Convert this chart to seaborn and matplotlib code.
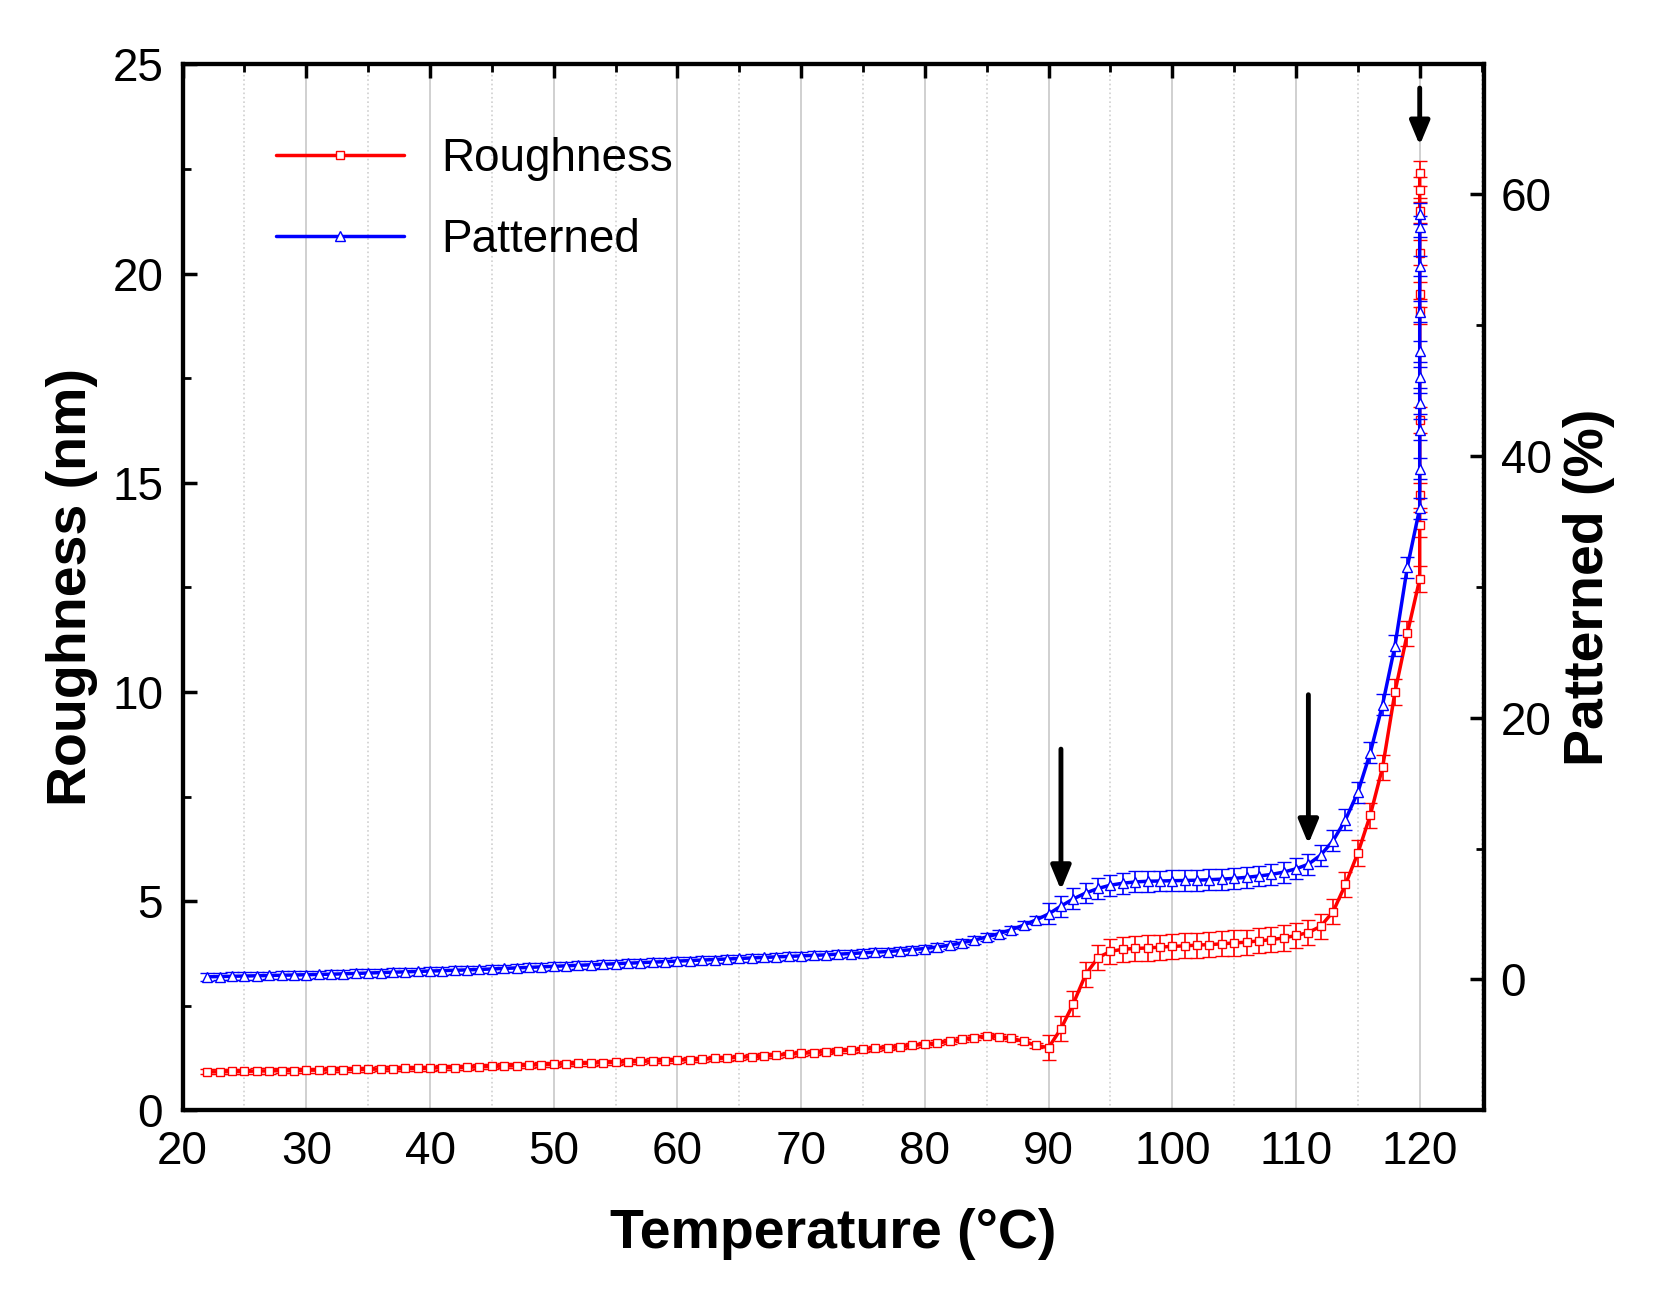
import numpy as np
import pandas as pd
import matplotlib
matplotlib.use("Agg")
import matplotlib.pyplot as plt
import seaborn as sns

# temperatures: 22..119 then several readings held at 120 C
temp = list(range(22, 120)) + [120] * 10

roughness = [0.92, 0.92, 0.93, 0.93, 0.94, 0.94, 0.95, 0.95,
             0.96, 0.96, 0.97, 0.97, 0.98, 0.98, 0.99, 0.99, 1.00, 1.00,
             1.01, 1.02, 1.02, 1.03, 1.04, 1.05, 1.06, 1.07, 1.08, 1.09,
             1.10, 1.11, 1.12, 1.13, 1.14, 1.15, 1.16, 1.17, 1.18, 1.19,
             1.20, 1.21, 1.22, 1.24, 1.25, 1.27, 1.28, 1.30, 1.32, 1.34,
             1.36, 1.38, 1.40, 1.42, 1.44, 1.46, 1.48, 1.50, 1.52, 1.55,
             1.58, 1.61, 1.65, 1.70, 1.74, 1.78, 1.76, 1.72, 1.65, 1.55,
             1.50, 1.95, 2.55, 3.25, 3.65, 3.80, 3.85, 3.87, 3.88, 3.90,
             3.92, 3.93, 3.95, 3.96, 3.98, 4.00, 4.02, 4.05, 4.08, 4.12,
             4.18, 4.25, 4.40, 4.75, 5.40, 6.15, 7.05, 8.20, 10.0, 11.4,
             12.7, 14.0, 14.7, 16.5, 19.1, 19.5, 20.5, 21.5, 22.0, 22.4]

patterned = [0.20, 0.22, 0.24, 0.26, 0.28, 0.30, 0.32, 0.34,
             0.36, 0.38, 0.40, 0.43, 0.46, 0.49, 0.52, 0.55, 0.58, 0.61,
             0.64, 0.67, 0.70, 0.73, 0.76, 0.80, 0.84, 0.88, 0.92, 0.96,
             1.00, 1.04, 1.08, 1.12, 1.16, 1.20, 1.24, 1.28, 1.32, 1.36,
             1.40, 1.44, 1.48, 1.52, 1.56, 1.60, 1.64, 1.68, 1.72, 1.76,
             1.80, 1.84, 1.88, 1.93, 1.98, 2.03, 2.08, 2.13, 2.20, 2.28,
             2.36, 2.48, 2.62, 2.80, 3.00, 3.25, 3.50, 3.80, 4.15, 4.55,
             5.00, 5.60, 6.15, 6.60, 6.95, 7.20, 7.35, 7.45, 7.50, 7.52,
             7.54, 7.56, 7.58, 7.62, 7.66, 7.72, 7.80, 7.90, 8.02, 8.20,
             8.45, 8.80, 9.50, 10.6, 12.2, 14.3, 17.3, 21.0, 25.5, 31.5,
             36.0, 39.0, 42.0, 44.0, 46.0, 48.0, 51.0, 54.5, 57.5, 58.5]

rough_err = [0.06] * 68 + [0.3] * 40
pat_err = [0.3] * 68 + [0.8] * 40

arrow_x = [91, 111, 120]
arrow_top = [8.7, 10.0, 24.5]
arrow_bottom = [5.2, 6.3, 23.0]

df = pd.DataFrame({"T": temp, "R": roughness, "P": patterned,
                   "Re": rough_err, "Pe": pat_err})

sns.set_theme(style="white")
plt.rcParams["font.family"] = "Liberation Sans"
plt.rcParams["text.color"] = "black"
plt.rcParams["axes.labelcolor"] = "black"
plt.rcParams["xtick.color"] = "black"
plt.rcParams["ytick.color"] = "black"

fig = plt.figure(figsize=(16.75, 13.14), dpi=100)
ax = fig.add_axes([0.109, 0.155, 0.777, 0.796])
ax2 = ax.twinx()

ax.errorbar(df["T"], df["R"], yerr=df["Re"], fmt="none", ecolor="red",
            elinewidth=1.2, capsize=5, zorder=2)
sns.lineplot(data=df, x="T", y="R", ax=ax, color="red", marker="s",
             markersize=6, markerfacecolor="white", markeredgecolor="red",
             markeredgewidth=1, linewidth=2.5, estimator=None, sort=False,
             label="Roughness", zorder=3)

ax2.errorbar(df["T"], df["P"], yerr=df["Pe"], fmt="none", ecolor="blue",
             elinewidth=1.2, capsize=5, zorder=2)
sns.lineplot(data=df, x="T", y="P", ax=ax2, color="blue", marker="^",
             markersize=7, markerfacecolor="white", markeredgecolor="blue",
             markeredgewidth=1, linewidth=2.5, estimator=None, sort=False,
             label="Patterned", zorder=3)

ax.set_xlim(20, 125.2)
ax.set_ylim(0, 25)
ax2.set_ylim(-9.8, 69.9)
ax.set_xticks(range(20, 121, 10))
ax.set_xticks(range(25, 126, 10), minor=True)
ax.set_yticks(range(0, 26, 5))
ax.set_yticks(np.arange(0, 25.1, 2.5), minor=True)
ax2.set_yticks(range(0, 61, 20))
ax2.set_yticks(range(-10, 70, 10), minor=True)

ax.grid(True, axis="x", which="major", color="#c8c8c8", linewidth=1.2)
ax.grid(True, axis="x", which="minor", color="#d0d0d0", linestyle=":", linewidth=1.2)

for a in (ax, ax2):
    for s in a.spines.values():
        s.set_linewidth(3)
        s.set_color("black")
ax.tick_params(axis="both", which="major", labelsize=33, width=2.5, length=10,
               direction="in", top=True)
ax.tick_params(axis="both", which="minor", width=2, length=6, direction="in", top=True)
ax.tick_params(axis="x", which="major", pad=14)
ax.tick_params(axis="y", which="major", pad=14)
ax2.tick_params(axis="y", which="major", labelsize=33, width=2.5, length=10,
                direction="in", pad=12)
ax2.tick_params(axis="y", which="minor", width=2, length=6, direction="in")

ax.set_xlabel("Temperature (\u00b0C)", fontsize=40, fontweight="bold", labelpad=25)
ax.set_ylabel("Roughness (nm)", fontsize=40, fontweight="bold", labelpad=10)
ax2.set_ylabel("Patterned (%)", fontsize=40, fontweight="bold", labelpad=8)

for x, y0, y1 in zip(arrow_x, arrow_top, arrow_bottom):
    ax.annotate("", xy=(x, y1), xytext=(x, y0),
                arrowprops=dict(arrowstyle="-|>,head_length=1.2,head_width=0.5",
                                color="black", lw=3.5), zorder=5)

h1, l1 = ax.get_legend_handles_labels()
h2, l2 = ax2.get_legend_handles_labels()
ax2.get_legend().remove()
ax.legend(h1 + h2, l1 + l2, loc="upper left", bbox_to_anchor=(0.04, 0.97),
          frameon=False, fontsize=33, handlelength=2.8, labelspacing=0.8)

fig.savefig("out.png", dpi=100)
